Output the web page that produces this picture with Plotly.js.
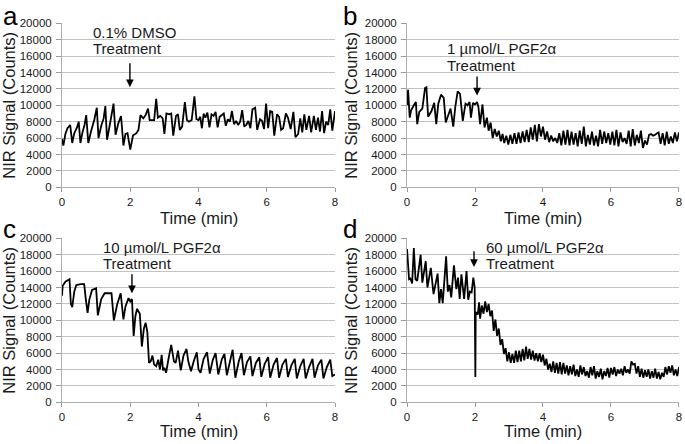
<!DOCTYPE html>
<html>
<head>
<meta charset="utf-8">
<script src="https://cdn.plot.ly/plotly-3.0.1.min.js"></script>
<style>html,body{margin:0;padding:0;background:#fff;}#chart{width:685px;height:444px;}</style>
</head>
<body>
<div id="chart"></div>
<script>
// ---- Data (time in minutes, NIR signal in counts) ----
const panelLetters = ["a", "b", "c", "d"];
const treatmentLabels = ["0.1% DMSO", "1 µmol/L PGF2α", "10 µmol/L PGF2α", "60 µmol/L PGF2α"];
const xTickVals = [0, 2, 4, 6, 8];
const yTickVals = [0, 2000, 4000, 6000, 8000, 10000, 12000, 14000, 16000, 18000, 20000];
const yTickText = ["0", "2000", "4000", "6000", "8000", "10000", "12000", "14000", "16000", "18000", "20000"];

const timeA = [0.00,0.04,0.10,0.16,0.24,0.30,0.36,0.44,0.49,0.54,0.60,0.66,0.71,0.77,0.85,0.95,1.02,1.07,1.15,1.22,1.27,1.32,1.40,1.51,1.57,1.65,1.73,1.80,1.86,1.92,2.00,2.08,2.18,2.24,2.30,2.38,2.45,2.52,2.57,2.70,2.76,2.81,2.88,2.95,3.00,3.06,3.14,3.20,3.26,3.34,3.40,3.45,3.52,3.60,3.66,3.72,3.80,3.88,3.94,4.00,4.05,4.10,4.15,4.20,4.26,4.32,4.38,4.44,4.50,4.56,4.62,4.68,4.74,4.80,4.86,4.92,4.98,5.04,5.10,5.16,5.22,5.28,5.34,5.40,5.46,5.52,5.58,5.62,5.66,5.72,5.80,5.86,5.92,5.98,6.04,6.10,6.16,6.22,6.30,6.36,6.42,6.48,6.56,6.62,6.70,6.78,6.84,6.92,6.98,7.04,7.10,7.16,7.24,7.30,7.38,7.44,7.50,7.56,7.62,7.68,7.74,7.80,7.86,7.92,8.00];
const signalA = [5900,5100,6500,7200,7600,5400,6600,7300,8000,5400,6700,7600,8800,5400,6800,8300,9700,6000,7500,8400,9900,5800,7600,10200,6400,7800,8700,5100,6500,6600,4600,6300,6600,7000,8800,8400,8800,9600,8200,8200,10800,8500,8700,8400,6500,9000,8900,9000,6300,8700,8900,7000,7400,10400,8200,8000,8200,11100,8300,8200,8600,7200,9000,8500,9100,7300,8900,8700,9200,7300,8600,8800,9000,7500,8300,8000,9300,7700,8100,7600,8000,9400,7400,7600,8100,7200,9500,9600,9700,7000,8300,8100,7100,10200,7200,9300,9200,6300,8900,8600,7000,7200,9000,8500,7100,9200,6100,6500,8400,6700,8900,7000,8700,6700,8700,7000,8500,6800,9300,6600,8000,7600,9500,6900,9300];

const timeB = [0.00,0.03,0.08,0.12,0.20,0.26,0.30,0.36,0.45,0.53,0.57,0.62,0.72,0.80,0.86,0.92,1.00,1.08,1.14,1.22,1.28,1.36,1.42,1.49,1.56,1.64,1.72,1.78,1.84,1.88,1.94,2.00,2.06,2.10,2.15,2.22,2.28,2.35,2.40,2.46,2.52,2.58,2.64,2.70,2.76,2.81,2.86,2.92,2.98,3.04,3.10,3.16,3.22,3.28,3.34,3.40,3.46,3.52,3.58,3.64,3.70,3.76,3.82,3.88,3.94,4.00,4.06,4.12,4.18,4.24,4.30,4.36,4.42,4.48,4.54,4.60,4.66,4.72,4.78,4.84,4.90,4.96,5.02,5.08,5.14,5.20,5.26,5.32,5.38,5.44,5.50,5.56,5.62,5.68,5.74,5.80,5.86,5.92,5.98,6.04,6.10,6.16,6.22,6.28,6.34,6.40,6.46,6.52,6.58,6.64,6.70,6.76,6.82,6.88,6.94,7.00,7.06,7.12,7.18,7.24,7.30,7.36,7.40,7.46,7.52,7.58,7.64,7.70,7.76,7.82,7.88,7.94,8.00];
const signalB = [10000,11900,8500,9400,10000,10400,7700,9200,9600,12100,12200,8600,9300,10300,7700,10200,11300,10900,7900,9000,9600,7400,9800,11700,11400,8100,10200,10000,10400,8500,10300,10100,10400,9800,7700,10100,7300,8500,6900,7900,6000,7100,6200,6900,5600,6500,5400,6300,5200,6400,5300,6600,5300,6700,5400,6800,5500,7000,5500,7300,5800,7600,5600,7700,6200,7400,5800,6800,5500,6300,5600,6000,5400,6600,5100,6900,5200,7000,5100,6800,5200,6600,5000,6900,5300,7400,5000,6400,5200,6800,5100,6300,5000,7000,5300,6800,5400,6600,5200,6800,5100,7000,5000,6700,5500,6000,5300,6900,5000,7100,5100,6400,5400,6900,4800,5700,5200,6400,6500,6300,6400,6600,6700,5300,6600,5100,6800,5300,6200,5400,6700,5600,6700];

const timeC = [0.00,0.02,0.10,0.22,0.26,0.30,0.36,0.42,0.55,0.65,0.70,0.75,0.80,0.88,1.00,1.05,1.15,1.25,1.45,1.52,1.62,1.72,1.80,1.86,1.95,2.00,2.05,2.10,2.15,2.20,2.28,2.34,2.40,2.45,2.50,2.55,2.60,2.65,2.70,2.76,2.82,2.87,2.92,2.96,3.00,3.05,3.12,3.20,3.28,3.33,3.40,3.48,3.56,3.65,3.70,3.78,3.86,3.95,4.00,4.06,4.15,4.25,4.33,4.42,4.50,4.58,4.68,4.76,4.83,4.92,5.00,5.08,5.18,5.26,5.33,5.42,5.52,5.58,5.68,5.78,5.84,5.94,6.04,6.10,6.20,6.30,6.36,6.46,6.56,6.62,6.72,6.82,6.88,6.98,7.08,7.14,7.24,7.34,7.40,7.50,7.60,7.66,7.76,7.86,7.92,8.00];
const signalC = [13000,14200,14700,15000,12000,11600,13500,14300,14400,14400,12500,10900,12500,13700,13900,10600,12600,13300,13300,10000,12000,13300,10100,11700,12700,12300,12600,8100,10500,11400,10800,6800,9000,9700,8600,4800,5000,5700,4600,4400,5200,4000,5800,3900,4200,3600,5300,7000,5000,4800,6300,3900,5700,6500,5000,3800,5000,6100,4000,3600,5300,6100,3500,5200,6000,3400,5200,5900,3300,5000,6400,3000,5000,6000,3300,4900,5600,3200,4800,5500,3100,4700,5500,3000,4600,5400,3000,4600,5300,3100,4500,5300,2900,4400,5300,2900,4300,5300,3000,4500,5200,2900,4300,5200,3200,3400];

const timeD = [0.00,0.02,0.06,0.10,0.15,0.20,0.25,0.30,0.40,0.45,0.55,0.60,0.70,0.78,0.90,0.95,1.00,1.05,1.15,1.20,1.25,1.30,1.38,1.45,1.50,1.55,1.60,1.68,1.75,1.80,1.85,1.90,1.95,1.99,2.01,2.02,2.08,2.12,2.15,2.20,2.25,2.30,2.35,2.40,2.45,2.50,2.55,2.60,2.65,2.70,2.75,2.80,2.85,2.90,2.95,3.00,3.05,3.10,3.15,3.20,3.25,3.30,3.35,3.40,3.45,3.50,3.55,3.60,3.65,3.70,3.75,3.80,3.85,3.90,3.95,4.00,4.05,4.10,4.15,4.20,4.25,4.30,4.35,4.40,4.45,4.50,4.55,4.60,4.65,4.70,4.75,4.80,4.85,4.90,4.95,5.00,5.05,5.10,5.15,5.20,5.25,5.30,5.35,5.40,5.45,5.50,5.55,5.60,5.65,5.70,5.75,5.80,5.85,5.90,5.95,6.00,6.05,6.10,6.15,6.20,6.25,6.30,6.35,6.40,6.45,6.50,6.55,6.60,6.65,6.70,6.75,6.80,6.85,6.90,6.95,7.00,7.05,7.10,7.15,7.20,7.25,7.30,7.35,7.40,7.45,7.50,7.55,7.60,7.65,7.70,7.75,7.80,7.85,7.90,7.95,8.00];
const signalD = [18700,17300,15000,15100,14500,18800,15000,14800,18000,14600,17200,14000,16400,13200,15700,12100,13800,12100,17800,13500,14300,12800,16700,13800,15200,12600,15600,12600,16000,12500,13500,13400,15200,14000,3100,11000,10700,12200,10200,11800,10800,12300,11000,12000,10500,11200,8700,10100,8100,9000,7000,7700,5900,6600,5000,6100,4800,5900,4800,6300,4900,6300,5000,6500,5100,6800,5300,6500,5200,6300,5100,6000,5000,6000,4900,5800,4500,5300,4000,4700,3700,5000,3600,4800,3500,4900,3400,4800,3500,4500,3300,4400,3400,4600,3200,4000,3100,4500,3400,4300,3200,3800,3000,4300,3300,4400,2900,3800,3100,4100,2800,3800,3200,4200,3000,4200,3400,4300,3200,4000,3500,4100,3300,4400,3600,4000,3500,5000,4600,4700,3500,4400,3100,4100,3000,3900,3100,4000,2900,3800,3000,4100,2900,3700,2800,3600,3100,4300,3400,4400,3600,4500,3300,4000,3200,4300];

// Treatment arrow positions (time, start signal, tip signal)
const arrowTime = [1.99, 2.06, 2.05, 1.97];
const arrowFrom = [15300, 13700, 15800, 18600];
const arrowTo = [12200, 11200, 13300, 16500];
const labelTime = [0.86, 1.11, 1.15, 2.27];

// ---- Build figure ----
const times = [timeA, timeB, timeC, timeD];
const signals = [signalA, signalB, signalC, signalD];
const suffix = ["", "2", "3", "4"];

const traces = times.map((t, i) => ({
  x: t, y: signals[i], type: "scatter", mode: "lines",
  xaxis: "x" + suffix[i], yaxis: "y" + suffix[i],
  line: {color: "#000000", width: 1.8}, hoverinfo: "skip", showlegend: false
}));

const xDomains = [[0.0905, 0.4891], [0.5942, 0.9912], [0.0905, 0.4891], [0.5942, 0.9912]];
const yDomains = [[0.5782, 0.9475], [0.5782, 0.9475], [0.0939, 0.4633], [0.0939, 0.4633]];

const fam = "Liberation Sans, Arial, sans-serif";
const tickFont = {family: fam, size: 11.5, color: "#1a1a1a"};
const titleFont = {family: fam, size: 16.5, color: "#1a1a1a"};

const layout = {
  width: 685, height: 444,
  margin: {l: 0, r: 0, t: 0, b: 0},
  paper_bgcolor: "#ffffff", plot_bgcolor: "#ffffff",
  showlegend: false,
  annotations: []
};

for (let i = 0; i < 4; i++) {
  const s = suffix[i];
  layout["xaxis" + s] = {
    domain: xDomains[i], anchor: "y" + s, range: [0, 8],
    tickvals: xTickVals, ticks: "outside", ticklen: 4, tickcolor: "#999999",
    showgrid: false, zeroline: false, showline: true, linecolor: "#b0b0b0", linewidth: 1,
    tickfont: tickFont, ticklabelstandoff: 0,
    fixedrange: true
  };
  layout["yaxis" + s] = {
    domain: yDomains[i], anchor: "x" + s, range: [0, 20000],
    tickvals: yTickVals, ticktext: yTickText, ticks: "outside", ticklen: 5, tickcolor: "#999999",
    showgrid: true, gridcolor: "#c2c2c2", gridwidth: 1, zeroline: false,
    showline: true, linecolor: "#b0b0b0", linewidth: 1,
    tickfont: tickFont, ticklabelstandoff: 2,
    title: {text: "NIR Signal (Counts)", font: titleFont, standoff: 2},
    fixedrange: true
  };
  // x-axis title
  layout.annotations.push({
    xref: "paper", yref: "paper",
    x: (xDomains[i][0] + xDomains[i][1]) / 2,
    y: i < 2 ? 1 - 218 / 444 : 1 - 431 / 444,
    xanchor: "center", yanchor: "middle",
    text: "Time (min)", showarrow: false, font: titleFont
  });
  // Panel letter
  const letterX = i % 2 === 0 ? 1 / 685 : 341 / 685;
  const letterY = i < 2 ? 1 - 16 / 444 : 1 - 229 / 444;
  layout.annotations.push({
    xref: "paper", yref: "paper", x: letterX, y: letterY, xanchor: "left", yanchor: "middle",
    text: panelLetters[i], showarrow: false,
    font: {family: fam, size: 26, color: "#000000"}
  });
  // Treatment text (two lines)
  layout.annotations.push({
    xref: "x" + s, yref: "y" + s, x: labelTime[i], y: i === 1 ? 16870 : 18900, xanchor: "left", yanchor: "middle",
    text: treatmentLabels[i], showarrow: false,
    font: {family: fam, size: 15, color: "#1a1a1a"}
  });
  layout.annotations.push({
    xref: "x" + s, yref: "y" + s, x: labelTime[i], y: i === 1 ? 14800 : 16900, xanchor: "left", yanchor: "middle",
    text: "Treatment", showarrow: false,
    font: {family: fam, size: 15, color: "#1a1a1a"}
  });
  // Arrow
  layout.annotations.push({
    xref: "x" + s, yref: "y" + s, x: arrowTime[i], y: arrowTo[i],
    axref: "x" + s, ayref: "y" + s, ax: arrowTime[i], ay: arrowFrom[i],
    text: "", showarrow: true, arrowhead: 2, arrowsize: 1.1, arrowwidth: 1.4, arrowcolor: "#000000"
  });
}

Plotly.newPlot("chart", traces, layout, {staticPlot: true, displayModeBar: false});
</script>
</body>
</html>
